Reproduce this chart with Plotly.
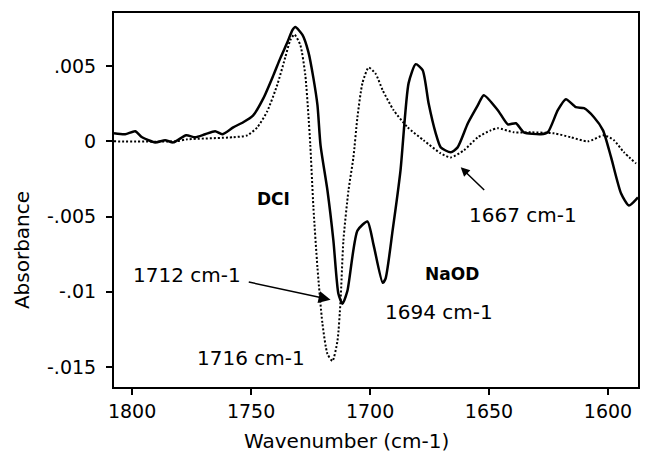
import plotly.graph_objects as go

# Solid spectrum (NaOD / DCl difference) - wavenumber (cm-1) and absorbance
solid_wn = [1807.6, 1802.9, 1798.7, 1795.8, 1790.3, 1786.1, 1782.7, 1777.3, 1773.5, 1769.3,
            1765.1, 1762.1, 1757.5, 1753.3, 1749.1, 1744.8, 1740.6, 1737.7, 1734.7, 1732.6,
            1731.4, 1728.4, 1725.9, 1723.8, 1722.1, 1720.8, 1717.9, 1715.4, 1713.3, 1711.6,
            1709.5, 1705.3, 1701.1, 1698.5, 1694.7, 1693.5, 1690.5, 1687.2, 1683.8, 1680.8,
            1677.9, 1675.4, 1672.4, 1670.3, 1666.1, 1663.2, 1658.9, 1654.7, 1652.2, 1646.3,
            1642.1, 1638.7, 1635.4, 1628.2, 1625.3, 1621.1, 1617.7, 1613.5, 1610.1, 1605.9,
            1602.1, 1598.7, 1594.5, 1591.2, 1587.4]
solid_abs = [0.00053, 0.00047, 0.00067, 0.00027, -0.00007, 0.00007, -0.00007, 0.0004, 0.00027, 0.00047,
             0.00067, 0.00047, 0.00093, 0.00127, 0.00173, 0.00287, 0.0044, 0.00553, 0.0066, 0.0074,
             0.0076, 0.00707, 0.00593, 0.0042, 0.0024, -0.00027, -0.00327, -0.0066, -0.01013, -0.0108,
             -0.00993, -0.00593, -0.00533, -0.0069, -0.0094, -0.00913, -0.0059, -0.00193, 0.00387, 0.00513,
             0.00473, 0.00253, 0.00053, -0.0004, -0.00073, -0.0004, 0.0012, 0.0024, 0.00307, 0.00207,
             0.00113, 0.0012, 0.0006, 0.00047, 0.0006, 0.00207, 0.0028, 0.00227, 0.0022, 0.0016,
             0.00073, -0.00107, -0.00347, -0.00427, -0.00373]

# Dotted spectrum
dot_wn = [1807.6, 1781.9, 1776.8, 1757.5, 1751.6, 1747.4, 1743.2, 1738.9, 1735.6, 1733.5,
          1731.8, 1729.3, 1727.2, 1725.9, 1725.1, 1723.8, 1722.1, 1720.0, 1717.9, 1715.8,
          1713.7, 1712.4, 1711.2, 1709.1, 1707.0, 1705.3, 1703.2, 1700.6, 1697.7, 1694.7,
          1690.1, 1684.2, 1677.5, 1670.3, 1666.1, 1660.6, 1654.7, 1649.3, 1646.3, 1639.6,
          1632.4, 1622.7, 1615.6, 1608.4, 1601.7, 1597.5, 1593.3, 1588.2]
dot_abs = [0.0, 0.0, 0.00013, 0.00027, 0.0004, 0.00093, 0.002, 0.0038, 0.0056, 0.00673,
           0.0071, 0.0064, 0.0044, 0.00173, -0.00027, -0.0044, -0.0084, -0.01213, -0.01413, -0.0146,
           -0.01327, -0.0106, -0.0066, -0.0033, -0.00107, 0.0016, 0.00387, 0.0049, 0.0045, 0.0034,
           0.00207, 0.00093, 0.00007, -0.0008, -0.00107, -0.0006, 0.00027, 0.00073, 0.00087, 0.0006,
           0.0006, 0.00053, 0.00027, 0.0, 0.0004, 0.00007, -0.00073, -0.00147]

x_ticks = [1800, 1750, 1700, 1650, 1600]
y_ticks = [0.005, 0.0, -0.005, -0.01, -0.015]
y_tick_labels = [".005", "0", "-.005", "-.01", "-.015"]

FONT = "DejaVu Sans"

fig = go.Figure()
fig.add_trace(go.Scatter(x=dot_wn, y=dot_abs, mode="lines",
                         line=dict(color="black", width=2, dash="2px,2px", shape="spline", smoothing=0.6),
                         showlegend=False))
fig.add_trace(go.Scatter(x=solid_wn, y=solid_abs, mode="lines",
                         line=dict(color="black", width=2.5, shape="spline", smoothing=0.6),
                         showlegend=False))

anns = [
    dict(x=1740.6, y=-0.0038, text="<b>DCI</b>", showarrow=False, font=dict(size=17)),
    dict(x=1665.7, y=-0.0088, text="<b>NaOD</b>", showarrow=False, font=dict(size=17)),
    dict(x=1671.2, y=-0.01133, text="1694 cm-1", showarrow=False),
    dict(x=1776.8, y=-0.00887, text="1712 cm-1", showarrow=False),
    dict(x=1749.9, y=-0.0144, text="1716 cm-1", showarrow=False),
    dict(x=1635.8, y=-0.00487, text="1667 cm-1", showarrow=False),
    dict(x=1716.6, y=-0.01053, ax=1751.6, ay=-0.00933, axref="x", ayref="y",
         text="", showarrow=True, arrowhead=2, arrowsize=1.6, arrowwidth=1.5, arrowcolor="black"),
    dict(x=1661.9, y=-0.00173, ax=1651.4, ay=-0.00333, axref="x", ayref="y",
         text="", showarrow=True, arrowhead=2, arrowsize=1.2, arrowwidth=1.5, arrowcolor="black"),
    dict(xref="paper", yref="paper", x=0.443, y=-0.144, xanchor="center", yanchor="middle",
         text="Wavenumber (cm-1)", showarrow=False, font=dict(size=20)),
    dict(xref="paper", yref="paper", x=-0.1756, y=0.366, xanchor="center", yanchor="middle",
         text="Absorbance", textangle=-90, showarrow=False, font=dict(size=20)),
]
for a in anns:
    f = a.pop("font", dict(size=20))
    f.setdefault("family", FONT)
    f.setdefault("color", "black")
    a["font"] = f
    fig.add_annotation(**a)

fig.update_layout(
    width=651, height=452,
    margin=dict(l=114, r=13, t=13, b=65),
    plot_bgcolor="white", paper_bgcolor="white",
    font=dict(family=FONT, size=19, color="black"),
    xaxis=dict(range=[1807.6, 1587.4], tickvals=x_ticks, ticks="outside", ticklen=6,
               tickwidth=1.5, tickcolor="black", showline=True, linecolor="black", linewidth=2,
               mirror=True, showgrid=False, zeroline=False, ticklabelstandoff=0),
    yaxis=dict(range=[-0.01633, 0.00853], tickvals=y_ticks, ticktext=y_tick_labels,
               ticks="outside", ticklen=6, tickwidth=1.5, tickcolor="black", showline=True,
               linecolor="black", linewidth=2, mirror=True, showgrid=False, zeroline=False,
               ticklabelstandoff=6),
)

fig.write_html("out.html")
